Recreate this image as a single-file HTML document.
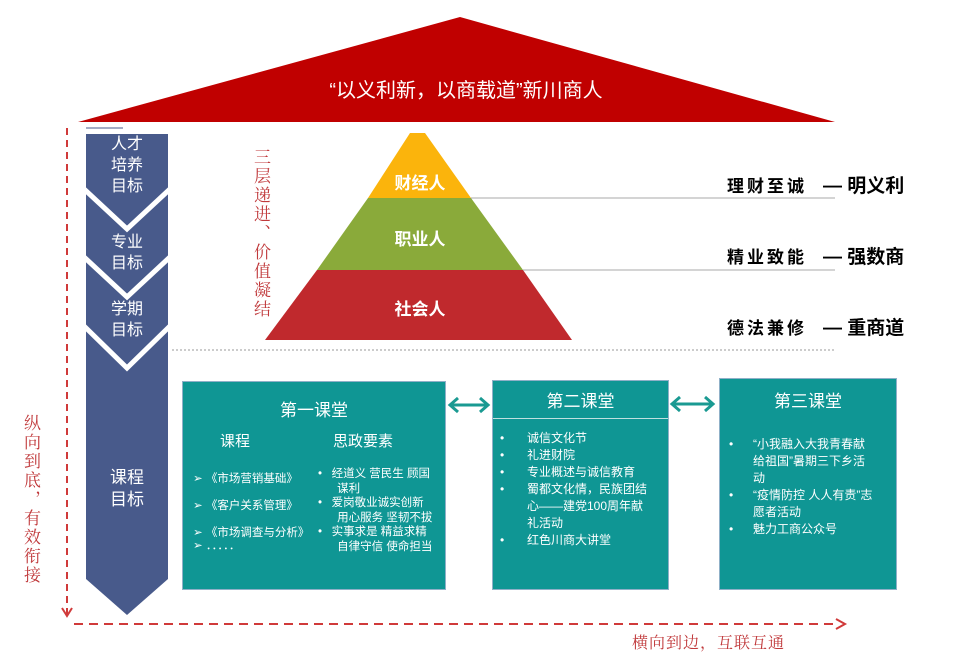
<!DOCTYPE html>
<html><head><meta charset="utf-8"><style>
body{margin:0;width:978px;height:659px;background:#fff;position:relative;overflow:hidden;font-family:"Liberation Sans","Noto Sans CJK SC",sans-serif}
.a{position:absolute;white-space:nowrap}
.w{color:#fff}
.box{position:absolute;background:#0f9694;border:1px solid #8fb0c8;box-sizing:border-box}
.s{font-size:11.5px;line-height:17px}
.v{position:absolute;writing-mode:vertical-rl;color:#c0393b;font-family:"Noto Serif CJK SC",serif}
</style></head><body>
<svg class="a" style="left:0;top:0" width="978" height="659">
<polygon points="78,122 835,122 460,17" fill="#c00000"/>
<polygon points="86,134 168,134 168,579 127,615 86,579" fill="#485a8b"/>
<g fill="none" stroke="#fff" stroke-width="5">
<polyline points="84,189 127,229 170,189"/>
<polyline points="84,257 127,297 170,257"/>
<polyline points="84,326 127,368 170,326"/>
</g>
<line x1="86" y1="128" x2="123" y2="128" stroke="#485a8b" stroke-width="1"/>
<polygon points="410,133 425,133 471,198 368,198" fill="#fbb40c"/>
<polygon points="368,198 471,198 523,270 317,270" fill="#8aaa3a"/>
<polygon points="317,270 523,270 572,340 265,340" fill="#c0292d"/>
<line x1="471" y1="198" x2="835" y2="198" stroke="#aaa" stroke-width="1"/>
<line x1="523" y1="270" x2="835" y2="270" stroke="#aaa" stroke-width="1"/>
<line x1="172" y1="350" x2="835" y2="350" stroke="#999" stroke-width="1" stroke-dasharray="2,2"/>
<g stroke="#d03a3a" stroke-width="2" fill="none">
<line x1="67" y1="128" x2="67" y2="614" stroke-dasharray="7,5"/>
<polyline points="62,608 67,616 72,608"/>
<line x1="74" y1="624" x2="838" y2="624" stroke-dasharray="9,6"/>
<polyline points="836,619 845,624 836,629"/>
</g>
<g stroke="#1a9a92" stroke-width="3" fill="none">
<line x1="450" y1="405" x2="488" y2="405"/>
<polyline points="458,398 450,405 458,412"/><polyline points="480,398 488,405 480,412"/>
<line x1="672" y1="404" x2="713" y2="404"/>
<polyline points="680,397 672,404 680,411"/><polyline points="705,397 713,404 705,411"/>
</g>
</svg>
<div class="a w" style="left:0;width:932px;text-align:center;top:74px;font-size:20px">“以义利新，以商载道”新川商人</div>
<div class="a w" style="left:86px;width:82px;text-align:center;top:134px;font-size:16px;line-height:21px">人才<br>培养<br>目标</div>
<div class="a w" style="left:86px;width:82px;text-align:center;top:232px;font-size:16px;line-height:21px">专业<br>目标</div>
<div class="a w" style="left:86px;width:82px;text-align:center;top:299px;font-size:16px;line-height:21px">学期<br>目标</div>
<div class="a w" style="left:86px;width:82px;text-align:center;top:467px;font-size:17px;line-height:22px">课程<br>目标</div>
<div class="v" style="left:252px;top:148px;font-size:17px;line-height:20px;letter-spacing:2px">三层递进、价值凝结</div>
<div class="v" style="left:22px;top:414px;font-size:17px;line-height:20px;letter-spacing:2px">纵向到底，有效衔接</div>
<div class="a" style="left:632px;top:630px;font-size:16px;color:#c0393b;font-family:'Noto Serif CJK SC',serif;letter-spacing:1px">横向到边，互联互通</div>
<div class="a w" style="left:370px;width:100px;text-align:center;top:169px;font-size:17px;font-weight:bold">财经人</div>
<div class="a w" style="left:370px;width:100px;text-align:center;top:225px;font-size:17px;font-weight:bold">职业人</div>
<div class="a w" style="left:370px;width:100px;text-align:center;top:295px;font-size:17px;font-weight:bold">社会人</div>
<div class="a" style="left:727px;top:172px;font-size:17px;font-weight:bold;letter-spacing:3px">理财至诚</div>
<div class="a" style="left:823px;top:171px;font-size:19px;font-weight:bold">— 明义利</div>
<div class="a" style="left:727px;top:243px;font-size:17px;font-weight:bold;letter-spacing:3px">精业致能</div>
<div class="a" style="left:823px;top:242px;font-size:19px;font-weight:bold">— 强数商</div>
<div class="a" style="left:727px;top:314px;font-size:17px;font-weight:bold;letter-spacing:3px">德法兼修</div>
<div class="a" style="left:823px;top:313px;font-size:19px;font-weight:bold">— 重商道</div>

<div class="box" style="left:182px;top:381px;width:264px;height:209px"></div>
<div class="a w" style="left:182px;width:264px;text-align:center;top:396px;font-size:17px">第一课堂</div>
<div class="a w" style="left:220px;top:430px;font-size:15px">课程</div>
<div class="a w" style="left:333px;top:430px;font-size:15px">思政要素</div>
<div class="a w s" style="left:193px;top:466px;line-height:27px">➢ 《市场营销基础》<br>➢ 《客户关系管理》<br>➢ 《市场调查与分析》</div>
<div class="a w s" style="left:193px;top:540px;line-height:12px">➢ ．．．．．</div>
<div class="a w s" style="left:318px;top:467px;line-height:14.5px">•&nbsp;&nbsp; 经道义 营民生 顾国<br>&nbsp;&nbsp;&nbsp;&nbsp;&nbsp; 谋利<br>•&nbsp;&nbsp; 爱岗敬业诚实创新<br>&nbsp;&nbsp;&nbsp;&nbsp;&nbsp; 用心服务 坚韧不拔<br>•&nbsp;&nbsp; 实事求是 精益求精<br>&nbsp;&nbsp;&nbsp;&nbsp;&nbsp; 自律守信 使命担当</div>

<div class="box" style="left:492px;top:380px;width:177px;height:210px"></div>
<div class="a" style="left:493px;top:418px;width:175px;height:1px;background:#bfe0e0"></div>
<div class="a w" style="left:492px;width:177px;text-align:center;top:387px;font-size:17px">第二课堂</div>
<div class="a w" style="left:500px;top:430px;font-size:12px;line-height:17px">•<br>•<br>•<br>•<br><br><br>•</div>
<div class="a w" style="left:527px;top:430px;font-size:12px;line-height:17px">诚信文化节<br>礼进财院<br>专业概述与诚信教育<br>蜀都文化情，民族团结<br>心——建党100周年献<br>礼活动<br>红色川商大讲堂</div>

<div class="box" style="left:719px;top:378px;width:178px;height:212px"></div>
<div class="a w" style="left:719px;width:178px;text-align:center;top:387px;font-size:17px">第三课堂</div>
<div class="a w" style="left:729px;top:436px;font-size:12px;line-height:17px">•<br><br><br>•<br><br>•</div>
<div class="a w" style="left:753px;top:436px;font-size:12px;line-height:17px">“小我融入大我青春献<br>给祖国”暑期三下乡活<br>动<br>“疫情防控 人人有责”志<br>愿者活动<br>魅力工商公众号</div>
</body></html>
